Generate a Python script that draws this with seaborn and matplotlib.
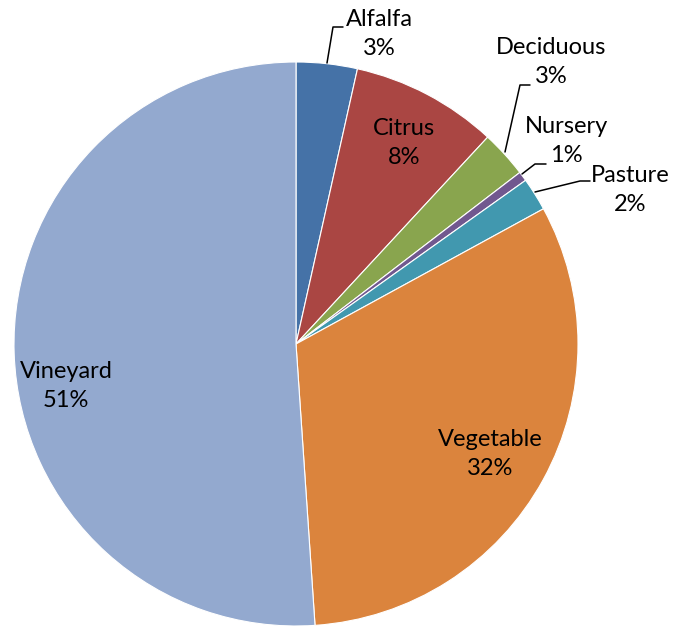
import matplotlib
matplotlib.use("Agg")
import matplotlib.pyplot as plt
import seaborn as sns

crops = ["Alfalfa", "Citrus", "Deciduous", "Nursery", "Pasture", "Vegetable", "Vineyard"]
shares = [3.5, 8.4, 2.7, 0.55, 1.9, 31.9, 51.1]
colors = ["#4572A7", "#AA4643", "#89A54E", "#71588F", "#4198AF", "#DB843D", "#93A9CF"]

sns.set_theme(style="white")
plt.rcParams["font.family"] = ["Lato", "DejaVu Sans"]

W, H = 676, 626
CX, CY, R = 296, 344, 282


def px(x, y):
    # pixel position -> data coords (pie radius = 1)
    return (x - CX) / R, (CY - y) / R


fig = plt.figure(figsize=(W / 100, H / 100), dpi=100)
ax = fig.add_axes([0, 0, 1, 1])
ax.pie(shares, colors=colors, startangle=90, counterclock=False, radius=1,
       wedgeprops=dict(edgecolor="white", linewidth=0.8))
ax.set_xlim(-CX / R, (W - CX) / R)
ax.set_ylim(-(H - CY) / R, CY / R)
ax.set_aspect("auto")
ax.axis("off")

total = sum(shares)
pct = [f"{int(round(v / total * 100))}%" for v in shares]

# label centres (pixels) and leader lines
label_pos = {
    "Alfalfa": (379, 34),
    "Citrus": (404, 143),
    "Deciduous": (551, 62),
    "Nursery": (566, 141),
    "Pasture": (630, 190),
    "Vegetable": (490, 454),
    "Vineyard": (66, 386),
}
leaders = {
    "Alfalfa": [(327, 63), (333, 27), (343, 27)],
    "Deciduous": [(505, 152), (520, 85), (530, 85)],
    "Nursery": [(522, 174), (535, 164), (546, 164)],
    "Pasture": [(535, 192), (580, 181), (590, 181)],
}

for name, p in zip(crops, pct):
    x, y = px(*label_pos[name])
    ax.text(x, y, f"{name}\n{p}", ha="center", va="center", fontsize=17,
            linespacing=1.45, color="black")
    if name in leaders:
        pts = [px(*q) for q in leaders[name]]
        ax.plot([q[0] for q in pts], [q[1] for q in pts], color="black", lw=1.1)

fig.savefig("out.png", dpi=100)
